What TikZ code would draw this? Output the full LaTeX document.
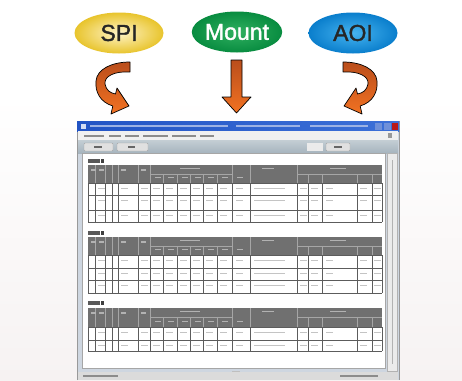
\documentclass[tikz,border=0pt]{standalone}
\usepackage{fontspec}
\setmainfont{Liberation Sans}
\newfontfamily\bubblefont[FakeBold=1.6]{Liberation Sans}
\usetikzlibrary{shapes.geometric,shadings}

\definecolor{spiIn}{RGB}{255,244,200}
\definecolor{spiOut}{RGB}{232,196,44}
\definecolor{mntIn}{RGB}{48,176,96}
\definecolor{mntOut}{RGB}{8,140,64}
\definecolor{aoiIn}{RGB}{70,180,240}
\definecolor{aoiOut}{RGB}{10,126,204}
\definecolor{arrDark}{RGB}{186,78,28}
\definecolor{arrLight}{RGB}{242,114,34}
\definecolor{titleA}{RGB}{34,84,196}
\definecolor{titleB}{RGB}{60,112,216}
\definecolor{hdrC}{RGB}{112,112,112}
\definecolor{gridC}{RGB}{92,92,92}
\definecolor{blobC}{RGB}{196,196,196}
\definecolor{frameC}{RGB}{206,214,224}

\tikzset{
  bubble/.style={ellipse, minimum width=89pt, minimum height=41pt, inner sep=0pt,
    font=\bubblefont\fontsize{23}{23}\selectfont},
  band/.style={top color=arrDark, bottom color=arrLight, draw=black, line width=0.7pt, line join=round},
  curl/.pic={
    \shade[band] (17,-23) -- (17,-13)
      .. controls (2,-14) and (-9,-9) .. (-8,-1)
      .. controls (-7,5) and (-3,8) .. (2.5,9)
      -- (4,3) -- (16,21) -- (-2,29) -- (-0.2,21)
      .. controls (-13,17) and (-18,7) .. (-17,-4)
      .. controls (-16,-16) and (-1,-23) .. (17,-23) -- cycle;
  },
  blob/.style={fill=blobC},
  menutxt/.style={fill=black!45},
}

% one table section of the report sheet:
% #1 label y, #2 header top, #3 header bottom, #4 row tops, #5 table bottom
\newcommand\gridblock[5]{%
  \fill[black!65] (88,#1-2) rectangle (100,#1+2);
  \fill[black!75] (101,#1-2) rectangle (104,#1+2);
  \fill[hdrC] (88,#2) rectangle (382,#3);
  \foreach \cx in {95,105,112,118,138,150,232,250,297}
    \draw[black!35, line width=0.4pt] (\cx,#2) -- (\cx,#3);
  \draw[black!35, line width=0.4pt] (150,{(#2+#3)/2}) -- (232,{(#2+#3)/2});
  \draw[black!35, line width=0.4pt] (297,{(#2+#3)/2}) -- (382,{(#2+#3)/2});
  \foreach \cx in {163,177,190,203,217,308,322,357,372}
    \draw[black!35, line width=0.4pt] (\cx,{(#2+#3)/2}) -- (\cx,#3);
  \fill[black!30] (180,#2+2.5) rectangle (200,#2+4);
  \fill[black!30] (330,#2+2.5) rectangle (346,#2+4);
  \fill[black!30] (262,#2+2.5) rectangle (274,#2+4);
  \foreach \cx in {153,166,180,193,206,220,235}
    \fill[black!30] (\cx+2,#3-6) rectangle (\cx+8,#3-4.8);
  \foreach \cx in {90,98,120,140}
    \fill[black!30] (\cx+1,#2+4) rectangle (\cx+6,#2+5.5);
  \fill[white] (88,#3) rectangle (382,#5);
  \foreach \ry in #4 {
    \draw[gridC, line width=0.5pt] (88,\ry) -- (382,\ry);
    \foreach \cx in {98,121,141,153,166,180,193,206,220,236,300,311,326,360,374}
      \fill[blob] (\cx,\ry+5) rectangle (\cx+7,\ry+6.3);
    \fill[blob] (254,\ry+5) rectangle (285,\ry+6.3);
  }
  \draw[gridC, line width=0.5pt] (88,#5) -- (382,#5);
  \foreach \cx in {88,95,105,112,118,138,150,163,177,190,203,217,232,250,297,308,322,357,372,382}
    \draw[gridC, line width=0.5pt] (\cx,#3) -- (\cx,#5);
}

\begin{document}
\begin{tikzpicture}[x=1pt,y=-1pt]
\useasboundingbox (0,0) rectangle (462,380);
\fill[white] (0,0) rectangle (462,380);
\shade[top color=white, bottom color={rgb,255:red,246;green,242;blue,242}] (0,95) rectangle (462,380);

% process bubbles
\node[bubble, inner color=spiIn, outer color=spiOut, text=black!85] (spi) at (119,33) {SPI};
\node[bubble, inner color=mntIn, outer color=mntOut, text=white] (mount) at (237,32) {Mount};
\node[bubble, inner color=aoiIn, outer color=aoiOut, text=black!85] (aoi) at (353,33) {AOI};

% data flow arrows into the report
\pic at (113,85) {curl};
\pic[xscale=-1] at (360,85) {curl};
\shade[band] (231,60) -- (242,60) -- (242,97) -- (251,97) -- (236.5,113)
  -- (222,97) -- (231,97) -- cycle;

% application window
\fill[frameC] (77,121) rectangle (399,380);
\draw[black!40, line width=0.5pt] (77,380) -- (77,121) -- (399,121) -- (399,380);
\shade[left color=titleA, right color=titleB] (77,121) rectangle (399,131);
\fill[white!80!titleA] (81,123.5) rectangle (86,128.5);
\fill[white!55!titleA] (90,125) rectangle (228,127);
\fill[white!55!titleA] (236,125) rectangle (300,127);
\fill[white!55!titleA] (310,125) rectangle (368,127);
\fill[white!35!titleA] (375,122.5) rectangle (382,129.5);
\fill[white!35!titleA] (383.5,122.5) rectangle (390.5,129.5);
\fill[red!70!black!90] (392,122.5) rectangle (398,129.5);

% menu bar
\fill[black!6] (78,131) rectangle (398,140);
\foreach \xa/\xb in {84/104,109/121,125/139,143/168,172/196,200/214}
  \fill[menutxt] (\xa,134.5) rectangle (\xb,136.5);
\fill[black!40] (388,133) rectangle (392,138);

% toolbar
\shade[top color={rgb,255:red,196;green,206;blue,212}, bottom color={rgb,255:red,166;green,180;blue,190}] (78,140) rectangle (398,153);
\foreach \xa/\xb in {84/113,117/148,326/350}
  \fill[black!12, draw=black!35, line width=0.4pt, rounded corners=1pt] (\xa,143) rectangle (\xb,151);
\fill[black!8] (307,143) rectangle (323,151);
\fill[black!60] (94,146) rectangle (102,148);
\fill[black!60] (128,146) rectangle (135,148);
\fill[black!60] (334,146) rectangle (342,148);

% report area and scroll bar
\fill[white, draw=black!35, line width=0.4pt] (82,153) rectangle (385,368);
\fill[black!8, draw=black!30, line width=0.4pt] (387,153) rectangle (397,371);
\draw[black!30, line width=0.4pt] (392,160) -- (392,364);

\gridblock{161}{165}{183}{{183,195,210}}{222}
\gridblock{233}{237}{255}{{255,268,280}}{293}
\gridblock{303}{308}{327}{{327,340}}{351}

\fill[black!25] (232,371) rectangle (240,373);

% status bar
\fill[black!14] (78,372) rectangle (398,380);
\fill[black!45] (83,375) rectangle (118,377);
\fill[black!45] (340,375) rectangle (378,377);
\end{tikzpicture}
\end{document}
